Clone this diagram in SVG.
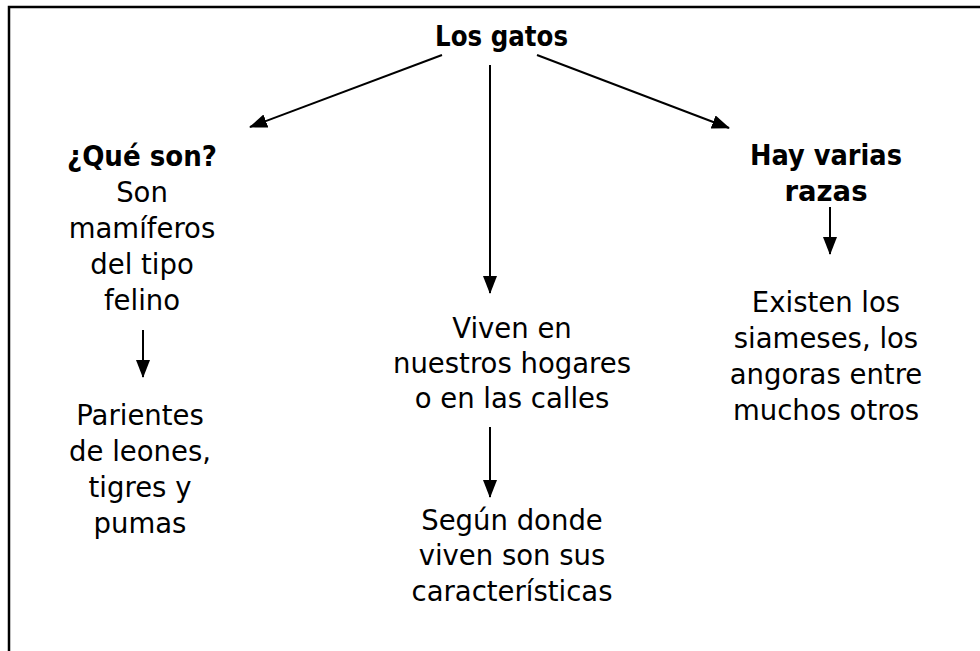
<svg xmlns="http://www.w3.org/2000/svg" width="980" height="651" viewBox="0 0 980 651">
<defs>
<marker id="ah" viewBox="0 0 18 14" refX="17" refY="7" markerWidth="18" markerHeight="14" markerUnits="userSpaceOnUse" orient="auto">
<path d="M0,0 L18,7 L0,14 Z" fill="#000"/>
</marker>
</defs>
<style>
text{font-family:"DejaVu Sans","Liberation Sans",sans-serif;font-size:27.5px;fill:#000;text-anchor:middle}
.b{font-weight:bold}
.c{stroke:#000;stroke-width:2;fill:none}
</style>
<rect width="980" height="651" fill="#fff"/>
<path d="M9,651 V7 H980" fill="none" stroke="#000" stroke-width="2.5"/>
<g id="connectors">
<path class="c" d="M442,55 L250,127" marker-end="url(#ah)"/>
<path class="c" d="M490,65 L490,293" marker-end="url(#ah)"/>
<path class="c" d="M537,55 L729,128" marker-end="url(#ah)"/>
<path class="c" d="M143,330 L143,377" marker-end="url(#ah)"/>
<path class="c" d="M490,427 L490,497" marker-end="url(#ah)"/>
<path class="c" d="M830,207 L830,254" marker-end="url(#ah)"/>
</g>
<g id="root"><text class="b" x="501.5" y="46" textLength="133" lengthAdjust="spacingAndGlyphs">Los gatos</text></g>
<g id="que-son">
<text class="b" x="142" y="166" textLength="150" lengthAdjust="spacingAndGlyphs">¿Qué son?</text>
<text x="142" y="202">Son</text>
<text x="142" y="238">mamíferos</text>
<text x="142" y="274">del tipo</text>
<text x="142" y="310">felino</text>
</g>
<g id="parientes">
<text x="140" y="425">Parientes</text>
<text x="140" y="461">de leones,</text>
<text x="140" y="497">tigres y</text>
<text x="140" y="533">pumas</text>
</g>
<g id="viven">
<text x="512" y="338">Viven en</text>
<text x="512" y="373">nuestros hogares</text>
<text x="512" y="408">o en las calles</text>
</g>
<g id="segun">
<text x="512" y="530">Según donde</text>
<text x="512" y="565">viven son sus</text>
<text x="512" y="601">características</text>
</g>
<g id="razas">
<text class="b" x="826" y="165" textLength="152" lengthAdjust="spacingAndGlyphs">Hay varias</text>
<text class="b" x="826" y="201">razas</text>
</g>
<g id="existen">
<text x="826" y="312">Existen los</text>
<text x="826" y="348">siameses, los</text>
<text x="826" y="384">angoras entre</text>
<text x="826" y="420">muchos otros</text>
</g>
</svg>
